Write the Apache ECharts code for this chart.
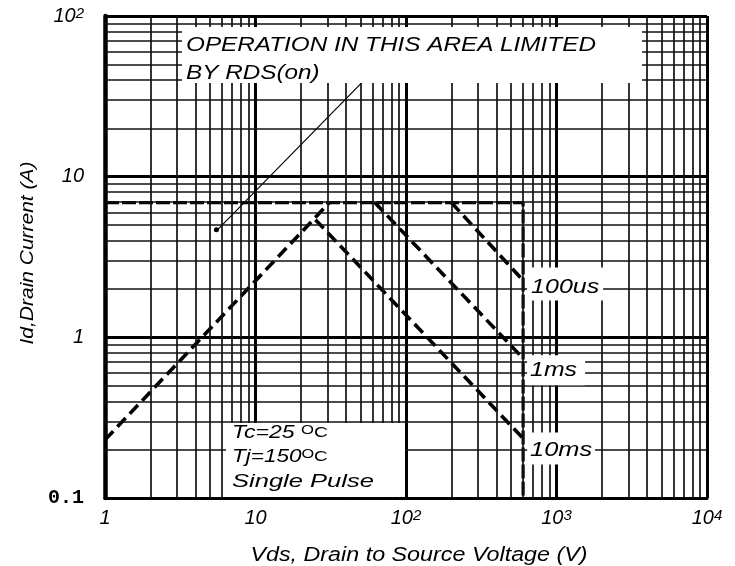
<!DOCTYPE html>
<html><head><meta charset="utf-8">
<script src="https://cdn.jsdelivr.net/npm/echarts@6/dist/echarts.min.js"></script>
<style>html,body{margin:0;padding:0;background:#fff}#c{width:735px;height:566px}</style>
</head><body><div id="c"></div>
<script>
// ---- data ----
const xTickText = ['1', '10', '10{s|2}', '10{s|3}', '10{s|4}'];      // 10^0 .. 10^4
const yTickText = ['{m|0.1}', '1', '10', '10{s|2}'];                // 10^-1 .. 10^2
const xMinorGrid = [2,3,4,5,6,7,8,9, 20,30,40,50,60,70,80,90, 200,300,400,500,600,700,800,900, 2000,3000,4000,5000,6000,7000,8000,9000];
const yMinorGrid = [0.2,0.3,0.4,0.5,0.6,0.7,0.8,0.9, 2,3,4,5,6,7,8,9, 20,30,40,50,60,70,80,90];

const limitV = [1, 600, 600];   const limitI = [6.9, 6.9, 0.1];   // current limit & Vdss
const riseV  = [1, 31];         const riseI  = [0.23, 6.9];       // RDS(on) limited region
const ms10V  = [25, 600];       const ms10I  = [5.4, 0.235];
const ms1V   = [62, 600];       const ms1I   = [6.9, 0.74];
const us100V = [200, 600];      const us100I = [6.9, 2.26];
const rdsV   = [5.5, 53];       const rdsI   = [4.6, 40];         // pointer line
const pulseLabels = ['100us', '1ms', '10ms'];

const zip = (a, b) => a.map((v, i) => [v, b[i]]);
const FONT = '"Liberation Sans", Arial, sans-serif';

const chart = echarts.init(document.getElementById('c'), null, {renderer: 'canvas'});
const dashed = {color: '#000', width: 3.6, type: [12, 6]};
const supRich = {
  s: {fontSize: 15, fontStyle: 'italic', fontFamily: FONT, verticalAlign: 'top', lineHeight: 15, color: '#000'},
  m: {fontSize: 20, fontFamily: '"Liberation Mono", monospace', fontWeight: 'bold', fontStyle: 'normal', color: '#000', verticalAlign: 'bottom'}
};
const option = {
  animation: false,
  backgroundColor: '#fff',
  grid: {left: 105, right: 28, top: 16, bottom: 68},
  xAxis: {
    type: 'log', logBase: 10, min: 1, max: 10000,
    axisLine: {show: true, onZero: false, lineStyle: {color: '#000', width: 3}},
    axisTick: {show: false},
    splitLine: {show: true, lineStyle: {color: '#000', width: 3}},
    axisLabel: {
      margin: 10, color: '#000', fontSize: 20, fontStyle: 'italic', fontFamily: FONT,
      formatter: v => xTickText[Math.round(Math.log10(v))] || '',
      rich: supRich
    }
  },
  yAxis: {
    type: 'log', logBase: 10, min: 0.1, max: 100,
    axisLine: {show: true, onZero: false, lineStyle: {color: '#000', width: 4.5}},
    axisTick: {show: false},
    splitLine: {show: true, lineStyle: {color: '#000', width: 3}},
    axisLabel: {
      margin: 21, color: '#000', fontSize: 20, fontStyle: 'italic', fontFamily: FONT,
      formatter: v => yTickText[Math.round(Math.log10(v)) + 1] || '',
      rich: supRich
    }
  },
  series: [
    {
      name: 'grid', type: 'line', z: 1, data: [[1, 0.1]], symbol: 'none', silent: true,
      lineStyle: {opacity: 0},
      markLine: {
        silent: true, symbol: ['none', 'none'], label: {show: false}, animation: false,
        lineStyle: {color: '#111', width: 1.7, type: 'solid'},
        emphasis: {disabled: true},
        data: xMinorGrid.map(v => ({xAxis: v})).concat(yMinorGrid.map(v => ({yAxis: v})))
      }
    },
    {name: 'limit', type: 'line', z: 3, data: zip(limitV, limitI), symbol: 'none', lineStyle: {color: '#000', width: 3.2, type: [14, 3]}},
    {name: 'rise', type: 'line', z: 3, data: zip(riseV, riseI), symbol: 'none', lineStyle: dashed},
    {name: '10ms', type: 'line', z: 3, data: zip(ms10V, ms10I), symbol: 'none', lineStyle: dashed},
    {name: '1ms', type: 'line', z: 3, data: zip(ms1V, ms1I), symbol: 'none', lineStyle: dashed},
    {name: '100us', type: 'line', z: 3, data: zip(us100V, us100I), symbol: 'none', lineStyle: dashed},
    {name: 'rds', type: 'line', z: 3, data: zip(rdsV, rdsI), symbol: 'none', lineStyle: {color: '#000', width: 1.2}}
  ]
};
chart.setOption(option);

const px = (v, i) => chart.convertToPixel({gridIndex: 0}, [v, i]);
const e100 = px(us100V[1], us100I[1]);
const e1 = px(ms1V[1], ms1I[1]);
const e10 = px(ms10V[1], ms10I[1]);
const rStart = px(rdsV[0], rdsI[0]);

function txt(text, x, y, size, sx, extra) {
  return Object.assign({
    type: 'text', x: x, y: y, z: 60, scaleX: sx,
    style: {text: text, font: 'italic ' + size + 'px ' + FONT, fill: '#000',
            textAlign: 'left', textVerticalAlign: 'middle'}
  }, extra || {});
}
function box(x, y, w, h) {
  return {type: 'rect', z: 50, shape: {x: x, y: y, width: w, height: h}, style: {fill: '#fff'}};
}
const degRich = {
  o: {fontSize: 13, fontFamily: FONT, verticalAlign: 'top', lineHeight: 13, fill: '#000'},
  c: {fontSize: 15, fontFamily: FONT, fill: '#000'}
};

const graphics = [
  box(182, 27, 460, 56),
  txt('OPERATION IN THIS AREA LIMITED', 186, 45, 21, 1.157),
  txt('BY RDS(on)', 186, 73, 21, 1.157),
  box(226, 423, 179, 74),
  {type: 'text', x: 232, y: 433, z: 60, scaleX: 1.28,
   style: {text: 'Tc=25 {o|O}{c|C}', font: 'italic 18px ' + FONT, fill: '#000', textAlign: 'left', textVerticalAlign: 'middle', rich: degRich}},
  {type: 'text', x: 232, y: 457, z: 60, scaleX: 1.25,
   style: {text: 'Tj=150{o|O}{c|C}', font: 'italic 18px ' + FONT, fill: '#000', textAlign: 'left', textVerticalAlign: 'middle', rich: degRich}},
  txt('Single Pulse', 232, 482, 18.5, 1.38),
  // small pointer blob at the start of the RDS(on) line
  {type: 'circle', z: 5, shape: {cx: rStart[0], cy: rStart[1] - 1, r: 2.5}, style: {fill: '#000'}},
  // pulse-width labels anchored to the end of their lines
  box(e100[0] + 4, e100[1] - 13, 76, 33),
  txt(pulseLabels[0], e100[0] + 8, e100[1] + 7, 20, 1.25),
  box(e1[0] + 4, e1[1] - 3, 58, 30),
  txt(pulseLabels[1], e1[0] + 7, e1[1] + 12, 20, 1.24),
  box(e10[0] + 4, e10[1] - 6, 68, 32),
  txt(pulseLabels[2], e10[0] + 7, e10[1] + 12, 20, 1.27),
  // axis titles
  {type: 'text', x: 419, y: 555, z: 60, scaleX: 1.165,
   style: {text: 'Vds, Drain to Source Voltage (V)', font: 'italic 20px ' + FONT, fill: '#000', textAlign: 'center', textVerticalAlign: 'middle'}},
  {type: 'text', x: 28, y: 253, z: 60, rotation: Math.PI / 2, scaleX: 1.165,
   style: {text: 'Id,Drain Current (A)', font: 'italic 18px ' + FONT, fill: '#000', textAlign: 'center', textVerticalAlign: 'middle'}}
];
chart.setOption({graphic: {elements: graphics}});
</script>
</body></html>
